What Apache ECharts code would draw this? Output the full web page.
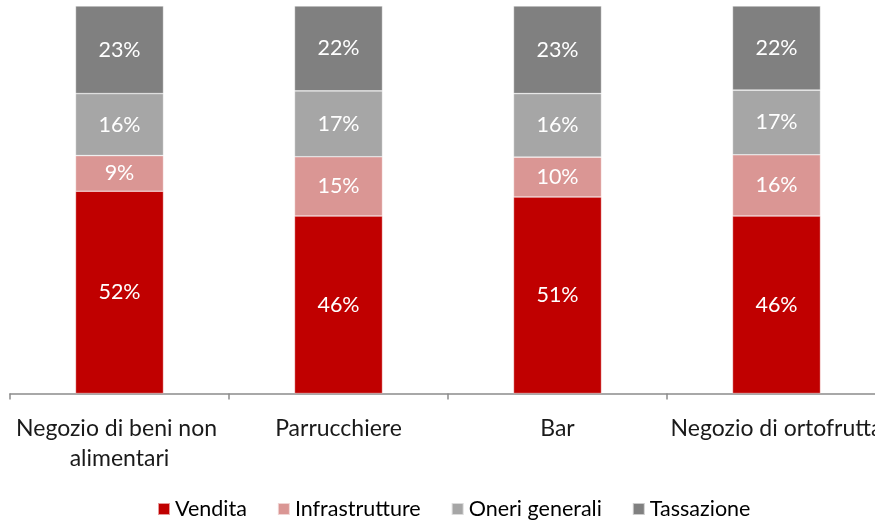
<!DOCTYPE html>
<html><head><meta charset="utf-8">
<script src="https://cdn.jsdelivr.net/npm/echarts@6/dist/echarts.min.js"></script>
<style>html,body{margin:0;padding:0;background:#fff}#c{width:875px;height:522px}</style>
</head><body><div id="c"></div>
<script>
const categories = ["Negozio di beni non alimentari", "Parrucchiere", "Bar", "Negozio di ortofrutta"];
const seriesNames = ["Vendita", "Infrastrutture", "Oneri generali", "Tassazione"];
const vendita = [52.2, 45.8, 50.7, 45.8];
const infrastrutture = [9.2, 15.3, 10.3, 15.8];
const oneri = [16.0, 17.0, 16.4, 16.7];
const tassazione = [22.6, 21.9, 22.6, 21.7];
const colors = ["#C00000", "#DA9694", "#A6A6A6", "#808080"];

const values = [vendita, infrastrutture, oneri, tassazione];
const FONT = "Lato, 'Open Sans', sans-serif";
const chart = echarts.init(document.getElementById('c'));
chart.setOption({
  animation: false,
  grid: { left: 10, top: 6, width: 876, bottom: 128.5, containLabel: false, outerBoundsMode: 'none' },
  legend: {
    top: 493, left: 152, itemWidth: 12, itemHeight: 12, itemGap: 30,
    icon: 'rect',
    textStyle: { fontFamily: FONT, fontSize: 21.5, color: '#000' },
    data: seriesNames
  },
  xAxis: {
    type: 'category', data: categories,
    axisLine: { lineStyle: { color: '#8C8C8C', width: 1.5 } },
    axisTick: { show: true, length: 6, lineStyle: { color: '#8C8C8C', width: 1.5 } },
    axisLabel: { interval: 0, margin: 20, fontFamily: FONT, fontSize: 23, color: '#1a1a1a', lineHeight: 30, width: 218, overflow: 'break' }
  },
  yAxis: { type: 'value', min: 0, max: 100, show: false, splitLine: { show: false } },
  series: values.map((v, i) => ({
    name: seriesNames[i], type: 'bar', stack: 'a', data: v, barWidth: 88,
    itemStyle: { color: colors[i], borderColor: 'rgba(255,255,255,0.6)', borderWidth: 0.6 },
    label: { show: true, position: 'inside', color: '#fff', fontFamily: FONT, fontSize: 21.5,
      formatter: p => Math.round(p.value) + '%' }
  }))
});
</script></body></html>
